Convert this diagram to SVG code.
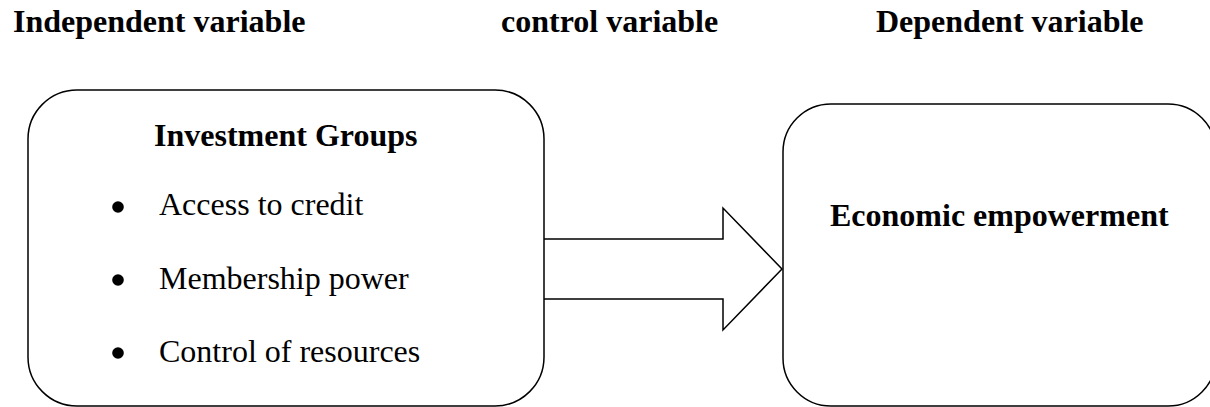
<svg xmlns="http://www.w3.org/2000/svg" width="1210" height="407" viewBox="0 0 1210 407">
  <style>
    text { font-family: "Liberation Serif", "Times New Roman", serif; font-size: 32px; fill: #000; }
    .b { font-weight: bold; }
    .box { fill: #fff; stroke: #000; stroke-width: 1.5; }
    .conn { fill: none; stroke: #000; stroke-width: 1.5; stroke-linejoin: miter; }
    .dot { fill: #000; }
  </style>
  <rect width="1210" height="407" fill="#fff"/>
  <g id="headers">
    <text class="b" x="13" y="32">Independent variable</text>
    <text class="b" x="501" y="32">control variable</text>
    <text class="b" x="876" y="32">Dependent variable</text>
  </g>
  <g id="investment-groups">
    <rect class="box" x="28" y="90" width="516" height="316" rx="49" ry="49"/>
    <text class="b" x="154" y="146">Investment Groups</text>
    <circle class="dot" cx="118" cy="207" r="5.8"/>
    <text x="159" y="215">Access to credit</text>
    <circle class="dot" cx="118" cy="280" r="5.8"/>
    <text x="159" y="289">Membership power</text>
    <circle class="dot" cx="118" cy="353" r="5.8"/>
    <text x="159" y="362">Control of resources</text>
  </g>
  <g id="economic-empowerment">
    <rect class="box" x="783" y="104" width="433" height="302" rx="48" ry="48"/>
    <text class="b" x="830" y="226">Economic empowerment</text>
  </g>
  <g id="connectors">
    <polyline class="conn" points="544,239 723,239 723,208 782,269 723,330 723,299 544,299"/>
  </g>
</svg>
